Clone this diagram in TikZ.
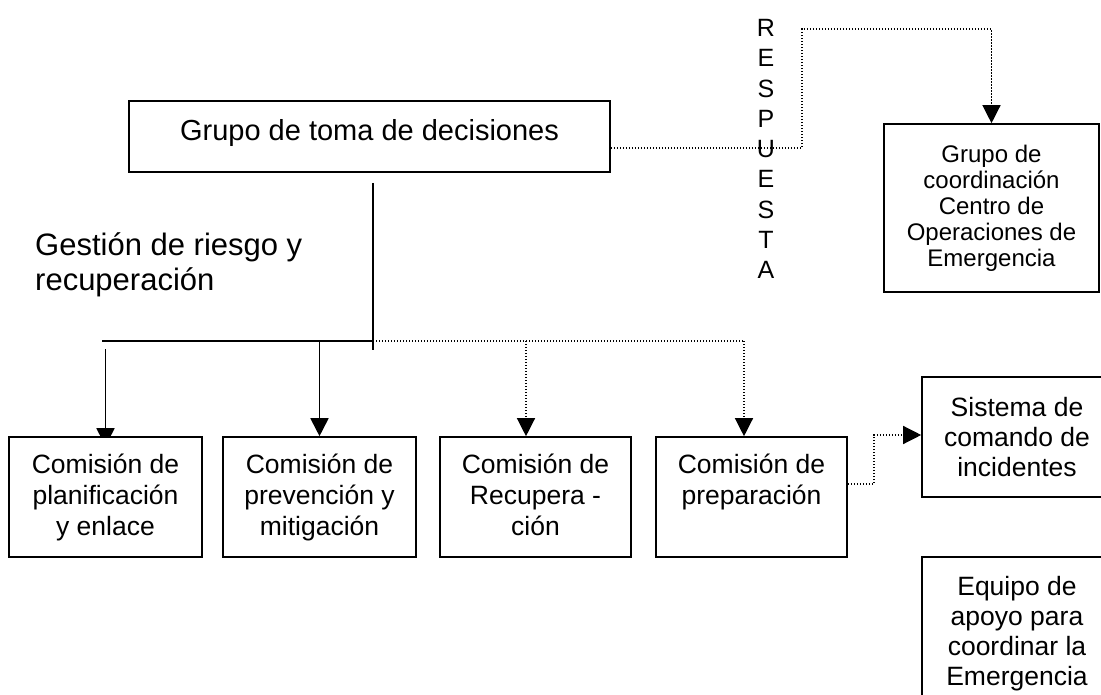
\documentclass[tikz,border=0pt]{standalone}
\usepackage{fontspec}
\setmainfont{Liberation Sans}
\usetikzlibrary{arrows.meta,backgrounds}
\begin{document}
\begin{tikzpicture}[x=1pt,y=-1pt,
  box/.style={draw,line width=1.6pt,fill=white,align=center,inner sep=0pt},
  comfont/.style={font=\fontsize{26.5}{31}\selectfont},
  solidline/.style={line width=1.8pt},
  dotline/.style={line width=1.3pt,dash pattern=on 1.3pt off 1.7pt},
  tip/.style={-{Triangle[width=18pt,length=18pt]}},
  ]
\useasboundingbox (0,0) rectangle (1101,695);

% nodes
\node[box,minimum width=481pt,minimum height=71pt,text height=21pt,text depth=13pt,
  font=\fontsize{29}{33}\selectfont] (top) at (369.5,136.5) {Grupo de toma de decisiones};

\node[font=\fontsize{31}{35.5}\selectfont,align=left,anchor=west,inner sep=0pt] (gest)
  at (35,265) {Gestión de riesgo y\\recuperación};

\node[font=\fontsize{25}{30.25}\selectfont,align=center,inner sep=0pt] (resp)
  at (766,149) {R\\E\\S\\P\\U\\E\\S\\T\\A};

\node[box,minimum width=215pt,minimum height=168pt,font=\fontsize{24}{26}\selectfont] (coord)
  at (991.5,208) {Grupo de\\coordinación\\Centro de\\Operaciones de\\Emergencia};

\node[box,comfont,minimum width=193pt,minimum height=120pt] (b1) at (105.5,497)
  {Comisión de\\planificación\\y enlace};
\node[box,comfont,minimum width=193pt,minimum height=120pt] (b2) at (319.5,497)
  {Comisión de\\prevención y\\mitigación};
\node[box,comfont,minimum width=191pt,minimum height=120pt] (b3) at (535.5,497)
  {Comisión de\\Recupera -\\ción\vphantom{y}};
\node[box,comfont,minimum width=191pt,minimum height=120pt] (b4) at (751.5,497)
  {Comisión de\\preparación\\\vphantom{y}};

\node[box,font=\fontsize{26.5}{30}\selectfont,minimum width=190pt,minimum height=120pt] (sis)
  at (1017,437) {Sistema de\\comando de\\incidentes};
\node[box,font=\fontsize{26.5}{30}\selectfont,minimum width=190pt,minimum height=153pt] (equ)
  at (1017,633.5) {Equipo de\\apoyo para\\coordinar la\\Emergencia};

% helper coordinates
\coordinate (v1) at (373,183);
\coordinate (v2) at (373,350);
\coordinate (h1) at (102,341);
\coordinate (hj) at (373,341);
\coordinate (h4) at (744,341);
\coordinate (d3) at (526,341);
\coordinate (a1) at (105.5,349);
\coordinate (r1) at (802,148);
\coordinate (r2) at (802,29);
\coordinate (s1) at (874,484);
\coordinate (s2) at (874,435);

\begin{scope}[on background layer]
\draw[solidline] (v1) -- (v2);
\draw[solidline] (h1) -- (hj);
\draw[dotline] (hj) -- (h4);
\draw[solidline,tip] (a1) -- ([yshift=-10pt]b1.north);
\draw[solidline,tip] (b2.north |- hj) -- (b2.north);
\draw[dotline,tip] (d3) -- (d3 |- b3.north);
\draw[dotline,tip] (h4) -- (h4 |- b4.north);
\draw[dotline,tip] (top.east |- r1) -- (r1) -- (r2) -- (coord.north |- r2) -- (coord.north);
\draw[dotline,tip] (b4.east |- s1) -- (s1) -- (s2) -- (sis.west |- s2);
\end{scope}
\end{tikzpicture}
\end{document}
